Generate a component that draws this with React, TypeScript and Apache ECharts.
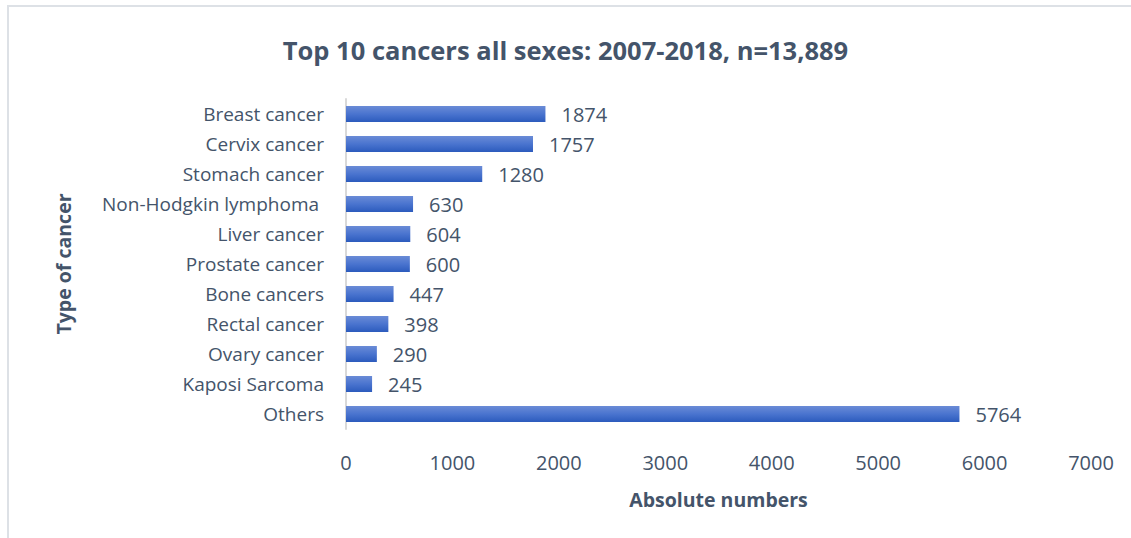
import React, { useEffect, useRef } from "react";
import * as echarts from "echarts";

const categories = [
  "Breast cancer",
  "Cervix cancer",
  "Stomach cancer",
  "Non-Hodgkin lymphoma ",
  "Liver cancer",
  "Prostate cancer",
  "Bone cancers",
  "Rectal cancer",
  "Ovary cancer",
  "Kaposi Sarcoma",
  "Others",
];
const values = [1874, 1757, 1280, 630, 604, 600, 447, 398, 290, 245, 5764];
const titleText = "Top 10 cancers all sexes: 2007-2018, n=13,889";
const xAxisName = "Absolute numbers";
const yAxisName = "Type of cancer";

const FONT = "'Open Sans', 'Noto Sans', sans-serif";
const TEXT = "#44546a";

export default function App() {
  const ref = useRef<HTMLDivElement>(null);
  useEffect(() => {
    document.body.style.margin = "0";
    const chart = echarts.init(ref.current!, null, { renderer: "svg" });
    chart.setOption({
      animation: false,
      backgroundColor: "#ffffff",
      textStyle: { fontFamily: FONT },
      title: {
        text: titleText,
        left: "center",
        top: 32,
        textStyle: { fontFamily: FONT, fontSize: 25.5, fontWeight: "bold", color: TEXT },
      },
      graphic: [
        {
          type: "rect",
          shape: { x: 8, y: 6, width: 1200, height: 700 },
          style: { fill: "none", stroke: "#dde1e6", lineWidth: 2 },
          silent: true,
        },
      ],
      grid: { left: 346, right: 40, top: 99, bottom: 109, containLabel: false },
      xAxis: {
        type: "value",
        min: 0,
        max: 7000,
        interval: 1000,
        name: xAxisName,
        nameLocation: "middle",
        nameGap: 60,
        nameTextStyle: { fontFamily: FONT, fontSize: 19.5, fontWeight: "bold", color: TEXT },
        axisLine: { show: false },
        axisTick: { show: false },
        splitLine: { show: false },
        axisLabel: {
          fontFamily: FONT,
          fontSize: 20,
          color: TEXT,
          margin: 23,
          formatter: (v: number) => String(v),
        },
      },
      yAxis: {
        type: "category",
        data: categories,
        inverse: true,
        name: yAxisName,
        nameLocation: "middle",
        nameGap: 273,
        nameRotate: 90,
        nameTextStyle: { fontFamily: FONT, fontSize: 19.5, fontWeight: "bold", color: TEXT },
        axisLine: { show: true, lineStyle: { color: "#d9d9d9", width: 2 } },
        axisTick: { show: false },
        axisLabel: { fontFamily: FONT, fontSize: 19, color: TEXT, margin: 22 },
      },
      series: [
        {
          type: "bar",
          data: values,
          barWidth: 16,
          itemStyle: {
            color: new echarts.graphic.LinearGradient(0, 0, 0, 1, [
              { offset: 0, color: "#6a8bd6" },
              { offset: 0.5, color: "#4a74cf" },
              { offset: 1, color: "#2c5bbd" },
            ]),
          },
          label: {
            show: true,
            position: "right",
            distance: 16,
            fontFamily: FONT,
            fontSize: 20,
            color: TEXT,
          },
        },
      ],
    });
    return () => chart.dispose();
  }, []);
  return <div ref={ref} style={{ width: 1131, height: 538 }} />;
}
